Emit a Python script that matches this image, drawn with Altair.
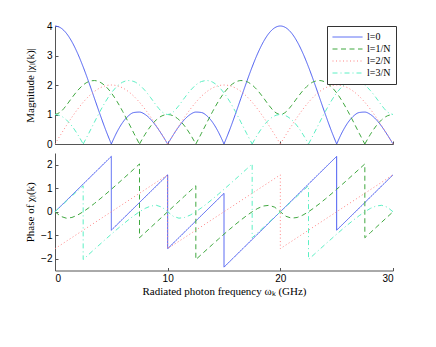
import altair as alt
import pandas as pd

# ---------------- data ----------------
freq = [0.0, 0.5, 1.0, 1.5, 2.0, 2.5, 3.0, 3.5, 4.0, 4.5, 5.0, 5.5, 6.0, 6.5, 7.0, 7.5, 8.0, 8.5, 9.0, 9.5,
        10.0, 10.5, 11.0, 11.5, 12.0, 12.5, 13.0, 13.5, 14.0, 14.5, 15.0, 15.5, 16.0, 16.5, 17.0, 17.5, 18.0, 18.5, 19.0, 19.5,
        20.0, 20.5, 21.0, 21.5, 22.0, 22.5, 23.0, 23.5, 24.0, 24.5, 25.0, 25.5, 26.0, 26.5, 27.0, 27.5, 28.0, 28.5, 29.0, 29.5,
        30.0]

mag_l0 = [4.000, 3.939, 3.758, 3.466, 3.078, 2.613, 2.095, 1.548, 1.000, 0.476, 0.000, 0.406, 0.727, 0.949, 1.067, 1.082, 1.000, 0.832, 0.595, 0.310,
          0.000, 0.310, 0.595, 0.832, 1.000, 1.082, 1.067, 0.949, 0.727, 0.406, 0.000, 0.476, 1.000, 1.548, 2.095, 2.613, 3.078, 3.466, 3.758, 3.939,
          4.000, 3.939, 3.758, 3.466, 3.078, 2.613, 2.095, 1.548, 1.000, 0.476, 0.000, 0.406, 0.727, 0.949, 1.067, 1.082, 1.000, 0.832, 0.595, 0.310,
          0.000]
mag_l1 = [1.000, 1.089, 1.306, 1.566, 1.809, 2.000, 2.118, 2.151, 2.095, 1.953, 1.732, 1.445, 1.108, 0.741, 0.364, 0.000, 0.331, 0.611, 0.823, 0.955,
          1.000, 0.955, 0.823, 0.611, 0.331, 0.000, 0.364, 0.741, 1.108, 1.445, 1.732, 1.953, 2.095, 2.151, 2.118, 2.000, 1.809, 1.566, 1.306, 1.089,
          1.000, 1.089, 1.306, 1.566, 1.809, 2.000, 2.118, 2.151, 2.095, 1.953, 1.732, 1.445, 1.108, 0.741, 0.364, 0.000, 0.331, 0.611, 0.823, 0.955,
          1.000]
mag_l2 = [0.000, 0.313, 0.618, 0.908, 1.176, 1.414, 1.618, 1.782, 1.902, 1.975, 2.000, 1.975, 1.902, 1.782, 1.618, 1.414, 1.176, 0.908, 0.618, 0.313,
          0.000, 0.313, 0.618, 0.908, 1.176, 1.414, 1.618, 1.782, 1.902, 1.975, 2.000, 1.975, 1.902, 1.782, 1.618, 1.414, 1.176, 0.908, 0.618, 0.313,
          0.000, 0.313, 0.618, 0.908, 1.176, 1.414, 1.618, 1.782, 1.902, 1.975, 2.000, 1.975, 1.902, 1.782, 1.618, 1.414, 1.176, 0.908, 0.618, 0.313,
          0.000]
mag_l3 = [1.000, 0.955, 0.823, 0.611, 0.331, 0.000, 0.364, 0.741, 1.108, 1.445, 1.732, 1.953, 2.095, 2.151, 2.118, 2.000, 1.809, 1.566, 1.306, 1.089,
          1.000, 1.089, 1.306, 1.566, 1.809, 2.000, 2.118, 2.151, 2.095, 1.953, 1.732, 1.445, 1.108, 0.741, 0.364, 0.000, 0.331, 0.611, 0.823, 0.955,
          1.000, 0.955, 0.823, 0.611, 0.331, 0.000, 0.364, 0.741, 1.108, 1.445, 1.732, 1.953, 2.095, 2.151, 2.118, 2.000, 1.809, 1.566, 1.306, 1.089,
          1.000]

ph_l0_freq = [0, 5, 5, 10, 10, 15, 15, 25, 25, 30]
ph_l0 = [0.000, 2.356, -0.785, 1.571, -1.571, 0.785, -2.356, 2.356, -0.785, 1.571]

ph_l2_freq = [0, 10, 10, 20, 20, 30]
ph_l2 = [-1.571, 1.571, -1.571, 1.571, -1.571, 1.571]

ph_l1_freq = [0, 0.5, 1, 1.5, 2, 2.5, 3, 3.5, 4, 4.5, 5, 5.5, 6, 6.5, 7, 7.5, 7.5, 8, 8.5, 9, 9.5, 10,
              10.5, 11, 11.5, 12, 12.5, 12.5, 13, 13.5, 14, 14.5, 15, 15.5, 16, 16.5, 17, 17.5, 18, 18.5, 19, 19.5, 20,
              20.5, 21, 21.5, 22, 22.5, 23, 23.5, 24, 24.5, 25, 25.5, 26, 26.5, 27, 27.5, 27.5, 28, 28.5, 29, 29.5, 30]
ph_l1 = [0.000, -0.194, -0.274, -0.244, -0.143, 0.000, 0.168, 0.352, 0.546, 0.748, 0.955, 1.167, 1.381, 1.597, 1.815, 2.034,
         -1.107, -0.887, -0.666, -0.444, -0.222, 0.000, 0.222, 0.444, 0.666, 0.887, 1.107,
         -2.034, -1.815, -1.597, -1.381, -1.167, -0.955, -0.748, -0.546, -0.352, -0.168, 0.000, 0.143, 0.244, 0.274, 0.194, 0.000,
         -0.194, -0.274, -0.244, -0.143, 0.000, 0.168, 0.352, 0.546, 0.748, 0.955, 1.167, 1.381, 1.597, 1.815, 2.034,
         -1.107, -0.887, -0.666, -0.444, -0.222, 0.000]

ph_l3_freq = [0, 0.5, 1, 1.5, 2, 2.5, 2.5, 3, 3.5, 4, 4.5, 5, 5.5, 6, 6.5, 7, 7.5, 8, 8.5, 9, 9.5, 10,
              10.5, 11, 11.5, 12, 12.5, 13, 13.5, 14, 14.5, 15, 15.5, 16, 16.5, 17, 17.5, 17.5, 18, 18.5, 19, 19.5, 20,
              20.5, 21, 21.5, 22, 22.5, 22.5, 23, 23.5, 24, 24.5, 25, 25.5, 26, 26.5, 27, 27.5, 28, 28.5, 29, 29.5, 30]
ph_l3 = [0.000, 0.222, 0.444, 0.666, 0.887, 1.107,
         -2.034, -1.815, -1.597, -1.381, -1.167, -0.955, -0.748, -0.546, -0.352, -0.168, 0.000, 0.143, 0.244, 0.274, 0.194, 0.000,
         -0.194, -0.274, -0.244, -0.143, 0.000, 0.168, 0.352, 0.546, 0.748, 0.955, 1.167, 1.381, 1.597, 1.815, 2.034,
         -1.107, -0.887, -0.666, -0.444, -0.222, 0.000, 0.222, 0.444, 0.666, 0.887, 1.107,
         -2.034, -1.815, -1.597, -1.381, -1.167, -0.955, -0.748, -0.546, -0.352, -0.168, 0.000, 0.143, 0.244, 0.274, 0.194, 0.000]

labels = ["l=0", "l=1/N", "l=2/N", "l=3/N"]
colors = ["#4a5cf2", "#3fa83f", "#ff8585", "#5cf0c4"]
dashes = [[1, 0], [5, 3.5], [1, 2.5], [5, 3, 1, 3]]

# ---------------- tables ----------------
mag_rows = []
for lab, vals in zip(labels, [mag_l0, mag_l1, mag_l2, mag_l3]):
    seg = 0
    n = len(vals)
    for i, (f, v) in enumerate(zip(freq, vals)):
        mag_rows.append(dict(freq=f, value=v, series=lab, seg=f"{lab}-{seg}", order=len(mag_rows)))
        if v == 0 and 0 < i < n - 1:
            seg += 1
            mag_rows.append(dict(freq=f, value=v, series=lab, seg=f"{lab}-{seg}", order=len(mag_rows)))
mag_df = pd.DataFrame(mag_rows)

ph_rows = []
for lab, fs, vals in zip(labels, [ph_l0_freq, ph_l1_freq, ph_l2_freq, ph_l3_freq], [ph_l0, ph_l1, ph_l2, ph_l3]):
    for f, v in zip(fs, vals):
        ph_rows.append(dict(freq=f, value=v, series=lab, order=len(ph_rows)))
ph_df = pd.DataFrame(ph_rows)

# ---------------- styling ----------------
W, H1, H2 = 338, 118, 117.5
AX = "#555555"
SANS = "Liberation Sans"
SERIF = "Liberation Serif"

xscale = alt.Scale(domain=[0, 30], nice=False)
ymag = alt.Scale(domain=[0, 4], nice=False)
yph = alt.Scale(domain=[-2.5, 2.5], nice=False)

legend = alt.Legend(
    title=None, orient="none", legendX=272, legendY=0,
    symbolType="stroke", symbolSize=900, symbolStrokeWidth=1,
    clipHeight=12, rowPadding=0, padding=5,
    labelFont=SERIF, labelFontSize=10, labelColor="black", labelOffset=4,
    strokeColor="#333333", fillColor="white",
)

color_top = alt.Color("series:N", scale=alt.Scale(domain=labels, range=colors), legend=legend)
dash_top = alt.StrokeDash("series:N", scale=alt.Scale(domain=labels, range=dashes), legend=legend)
color_bot = alt.Color("series:N", scale=alt.Scale(domain=labels, range=colors), legend=None)
dash_bot = alt.StrokeDash("series:N", scale=alt.Scale(domain=labels, range=dashes), legend=None)


def main_y(title, values, h):
    return alt.Axis(values=values, ticks=False, tickSize=0, grid=False, domainColor=AX,
                    labelFont=SANS, labelFontSize=10, labelColor="black", labelPadding=3,
                    title=title, titleFont=SERIF, titleFontSize=11, titleFontWeight="normal",
                    titleColor="black", titleX=-25, titleY=h / 2, titleBaseline="middle", titleAngle=270)


def inner_axis(orient, values):
    return alt.Axis(orient=orient, values=values, labels=False, domain=False, grid=False,
                    tickSize=3, tickColor=AX, offset=-3, title=None)


top_lines = alt.Chart(mag_df).mark_line(interpolate="monotone", strokeWidth=1).encode(
    x=alt.X("freq:Q", scale=xscale,
            axis=alt.Axis(labels=False, ticks=False, tickSize=0, grid=False, domainColor=AX, title=None)),
    y=alt.Y("value:Q", scale=ymag, axis=main_y("Magnitude |χₗ(k)|", [0, 1, 2, 3, 4], H1)),
    color=color_top, strokeDash=dash_top, detail="seg:N", order="order:Q",
)
top_ticks = alt.Chart(mag_df).mark_point(opacity=0).encode(
    x=alt.X("freq:Q", scale=xscale, axis=inner_axis("bottom", [0, 10, 20, 30])),
    y=alt.Y("value:Q", scale=ymag, axis=inner_axis("left", [0, 1, 2, 3, 4])),
)
top = alt.layer(top_lines, top_ticks).resolve_axis(x="independent", y="independent").properties(width=W, height=H1)

bot_lines = alt.Chart(ph_df).mark_line(strokeWidth=1).encode(
    x=alt.X("freq:Q", scale=xscale,
            axis=alt.Axis(values=[0, 10, 20, 30], ticks=False, tickSize=0, grid=False, domainColor=AX,
                          labelFont=SANS, labelFontSize=10, labelColor="black", labelPadding=3,
                          title="Radiated photon frequency ωₖ (GHz)", titleFont=SERIF, titleFontSize=11,
                          titleFontWeight="normal", titleColor="black", titleY=21, titleBaseline="middle")),
    y=alt.Y("value:Q", scale=yph, axis=main_y("Phase of χₗ(k)", [-2, -1, 0, 1, 2], H2)),
    color=color_bot, strokeDash=dash_bot, order="order:Q",
)
bot_ticks = alt.Chart(ph_df).mark_point(opacity=0).encode(
    x=alt.X("freq:Q", scale=xscale, axis=inner_axis("bottom", [0, 10, 20, 30])),
    y=alt.Y("value:Q", scale=yph, axis=inner_axis("left", [-2, -1, 0, 1, 2])),
)
bot = alt.layer(bot_lines, bot_ticks).resolve_axis(x="independent", y="independent").properties(width=W, height=H2)

chart = alt.vconcat(top, bot, spacing=4).resolve_scale(
    color="independent", strokeDash="independent"
).properties(
    padding={"left": 16, "top": 13, "right": 0, "bottom": 0}
).configure(background="white").configure_view(stroke=None, strokeWidth=0)

chart.save("out.html", embed_options={"renderer": "svg", "actions": False})
